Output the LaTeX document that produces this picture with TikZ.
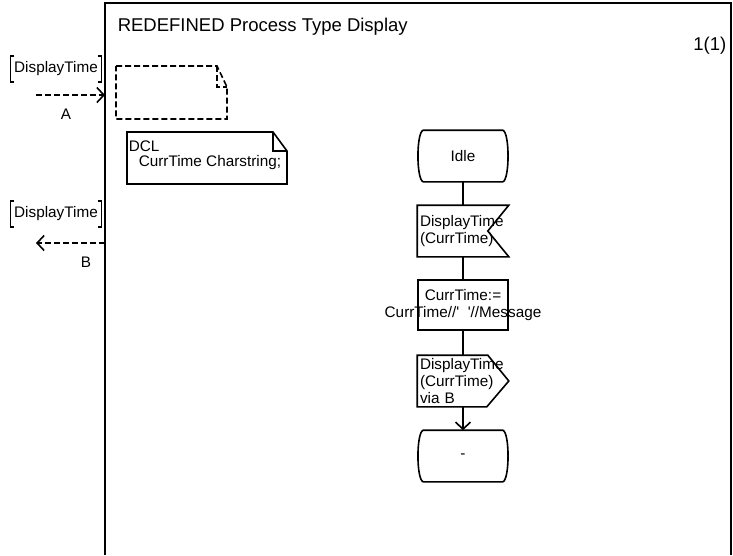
\documentclass[tikz,border=0pt]{standalone}
\usepackage{fontspec}
\setmainfont{Liberation Sans}
\usetikzlibrary{arrows.meta}

% outline of an SDL state symbol around node #1
\newcommand{\statesym}[1]{%
    \draw ([xshift=6pt]#1.north west) -- ([xshift=-6pt]#1.north east)
        .. controls ([xshift=1pt,yshift=-2pt]#1.north east) and ([xshift=1pt,yshift=2pt]#1.south east) .. ([xshift=-6pt]#1.south east)
        -- ([xshift=6pt]#1.south west)
        .. controls ([xshift=-1pt,yshift=2pt]#1.south west) and ([xshift=-1pt,yshift=-2pt]#1.north west) .. cycle;}
% brackets of a signal list around node #1
\newcommand{\siglistsym}[1]{%
    \draw ([xshift=4pt]#1.north west) -- (#1.north west) -- (#1.south west) -- ([xshift=4pt]#1.south west);
    \draw ([xshift=-4pt]#1.north east) -- (#1.north east) -- (#1.south east) -- ([xshift=-4pt]#1.south east);}

\begin{document}
\begin{tikzpicture}[x=1pt, y=-1pt, line width=1.6pt,
    >={Straight Barb[length=7pt,width=15pt]},
    every node/.style={font=\fontsize{15.3}{17}\selectfont},
    headtext/.style={font=\fontsize{18.5}{20}\selectfont, inner sep=0pt},
    symbox/.style={minimum width=90pt, minimum height=50pt, inner sep=0pt},
    textsym/.style={symbox, text width=86pt, inner xsep=2pt, align=left},
    siglist/.style={minimum height=24pt, inner xsep=3pt, inner ysep=0pt},
    gate/.style={dash pattern=on 6pt off 3pt}
]
    \useasboundingbox (0,0) rectangle (733,555);

    % frame
    \draw (105,555) -- (105,3) -- (731,3) -- (731,555);
    \node[headtext, anchor=west] (title) at (117,27) {REDEFINED Process Type Display};
    \node[headtext, anchor=east] (page) at (727,46) {1(1)};

    % gates
    \node[siglist] (sigA) at (56,69) {DisplayTime};
    \siglistsym{sigA}
    \coordinate (srcA) at (36,95);
    \coordinate (dstA) at (105,95);
    \draw[->, gate] (srcA) -- (dstA);
    \node (labA) at (66,114) {A};

    \node[siglist] (sigB) at (56,214) {DisplayTime};
    \siglistsym{sigB}
    \coordinate (srcB) at (105,243);
    \coordinate (dstB) at (36,243);
    \draw[->, gate] (srcB) -- (dstB);
    \node (labB) at (86,262) {B};

    % text symbols
    \draw[gate] (116,66) -- (217,66) -- (227,87) -- (227,119) -- (116,119) -- cycle;
    \draw[gate] (217,66) -- (217,87) -- (227,87);

    \draw (127,132) -- (273,132) -- (287,151) -- (287,184) -- (127,184) -- cycle;
    \draw (273,132) -- (273,151) -- (287,151);
    \node[anchor=west, align=left, inner sep=0pt, font=\fontsize{15.3}{15}\selectfont] (dcl) at (128,155)
        {DCL\\\hspace*{10pt}CurrTime Charstring;};

    % transition
    \node[symbox] (idle) at (463,156) {Idle};
    \statesym{idle}

    \node[textsym] (inp) at (463,231) {DisplayTime\\(CurrTime)};
    \draw (inp.north west) -- (inp.north east) -- ([xshift=-21pt]inp.east) -- (inp.south east) -- (inp.south west) -- cycle;

    \node[symbox, draw] (task) at (463,305) {};
    \node[align=center, inner sep=0pt] (tasktext) at (task.center)
        {CurrTime:=\\CurrTime//\textquotesingle\ \ \textquotesingle//Message};

    \node[textsym] (outp) at (463,381) {DisplayTime\\(CurrTime)\\via B};
    \draw (outp.north west) -- ([xshift=-21pt]outp.north east) -- (outp.east) -- ([xshift=-22pt]outp.south east) -- (outp.south west) -- cycle;

    \node[symbox] (next) at (463,456) {-};
    \statesym{next}

    \draw (idle) -- (inp);
    \draw (inp) -- (task);
    \draw (task) -- (outp);
    \draw[->] (outp) -- (next);
\end{tikzpicture}
\end{document}
